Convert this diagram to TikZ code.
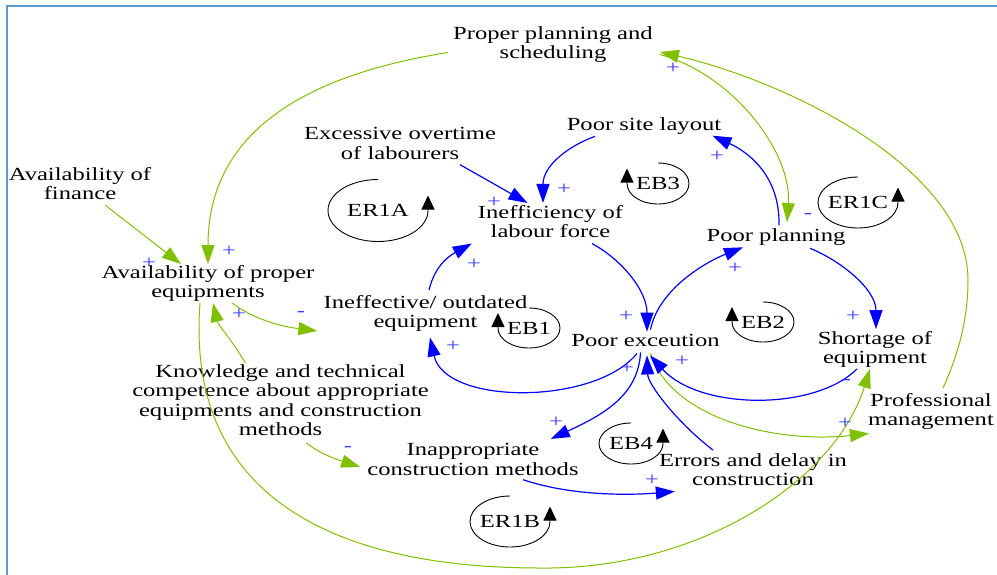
\documentclass[tikz,border=0pt]{standalone}
\usepackage{fontspec}
\setmainfont{Liberation Serif}[FakeStretch=1.33]
\usepackage{tikz}
\usetikzlibrary{arrows.meta}

\definecolor{lgreen}{RGB}{128,192,0}
\definecolor{frameblue}{RGB}{91,155,213}
\definecolor{signblue}{RGB}{60,60,255}

\begin{document}
\begin{tikzpicture}[x=1pt,y=-1pt,>={Triangle[length=19pt,width=13pt]},
	every node/.style={font=\fontsize{18.5}{19.5}\selectfont,inner sep=1pt},
	var/.style={align=center},
	sgn/.style={text=signblue,inner sep=0pt},
	lbl/.style={inner sep=0pt},
	bl/.style={->,draw=blue,line width=1.2pt},
	gr/.style={->,draw=lgreen,line width=1pt},
	lp/.style={draw=black,line width=0.9pt,-{Triangle[length=14pt,width=13pt]}}]
		\useasboundingbox (0,0) rectangle (997,574);
		\draw[frameblue,line width=2pt] (7,576) -- (7,6) -- (999,6);
		
		% variables
		\node[var] (pps) at (553,44.5) {Proper planning and\\scheduling};
		\node[var] (eol) at (400,143.5) {Excessive overtime\\of labourers};
		\node[var] (psl) at (644,125.7) {Poor site layout};
		\node[var] (aof) at (80,183.5) {Availability of\\finance};
		\node[var] (ilf) at (550.5,221.5) {Inefficiency of\\labour force};
		\node[var] (ppl) at (776,236.7) {Poor planning};
		\node[var] (ape) at (208,283.5) {Availability of proper\\equipments};
		\node[var] (ioe) at (425.5,313.5) {Ineffective/ outdated\\equipment};
		\node[var] (pex) at (645.5,340) {Poor exceution};
		\node[var] (soe) at (875,349.5) {Shortage of\\equipment};
		\node[var] (ktc) at (280.5,400) {Knowledge and technical\\competence about appropriate\\equipments and construction\\methods};
		\node[var] (pmg) at (931,411.5) {Professional\\management};
		\node[var] (icm) at (473,459.5) {Inappropriate\\construction methods};
		\node[var] (edc) at (753,469.5) {Errors and delay in\\construction};
		
		% loops
		\node[lbl] (er1a) at (378,210.5) {ER1A};
		\node[lbl] (eb3) at (658,183.5) {EB3};
		\node[lbl] (er1c) at (858,202.5) {ER1C};
		\node[lbl] (eb1) at (529,328) {EB1};
		\node[lbl] (eb2) at (763,322) {EB2};
		\node[lbl] (eb4) at (631,443.5) {EB4};
		\node[lbl] (er1b) at (510,521.5) {ER1B};
		\draw[lp] ([yshift=31pt]er1a.center) arc[start angle=-90,end angle=-360,x radius=50,y radius=31] -- ++(0,-15);
		\draw[lp] ([yshift=20.5pt]eb3.center) arc[start angle=-90,end angle=180,x radius=31,y radius=20.5] -- ++(0,-15);
		\draw[lp] ([yshift=25.5pt]er1c.center) arc[start angle=-90,end angle=-360,x radius=40,y radius=25.5] -- ++(0,-15);
		\draw[lp] ([yshift=20pt]eb1.center) arc[start angle=-90,end angle=180,x radius=31,y radius=20] -- ++(0,-15);
		\draw[lp] ([yshift=20pt]eb2.center) arc[start angle=-90,end angle=180,x radius=31,y radius=20] -- ++(0,-15);
		\draw[lp] ([yshift=20.5pt]eb4.center) arc[start angle=-90,end angle=-360,x radius=32,y radius=20.5] -- ++(0,-15);
		\draw[lp] ([yshift=25.5pt]er1b.center) arc[start angle=-90,end angle=-360,x radius=40,y radius=25.5] -- ++(0,-15);
		
		% green links
		\coordinate (gbend) at (540,568);
		\coordinate (mbend) at (968,280);
		\draw[gr] ([shift={(-4,8)}]pps.west) .. controls +(-190,30) and +(0,-100) .. (ape.north);
		\draw[gr] ([shift={(25,4)}]aof.south) -- ([xshift=-27pt]ape.north);
		\draw[gr] ([xshift=-35pt]ktc.north) .. controls +(-15,-25) and +(5,22) .. ([xshift=5pt]ape.south);
		\draw[gr] ([xshift=24pt]ape.south) .. controls +(20,15) and +(-40,-5) .. ([shift={(-5,-2)}]ioe.south west);
		\draw[gr] ([shift={(26,6)}]ktc.south) .. controls +(12,10) and +(-25,-8) .. ([shift={(-6,7.5)}]icm.west);
		\draw[gr] ([xshift=-8pt]ape.south) .. controls +(-15,197.5) and +(-200,0) .. (gbend)
			.. controls +(160,2) and +(-35,111.5) .. ([xshift=-5pt]soe.south);
		\draw[gr] ([shift={(5,6)}]pex.south) .. controls +(22,67) and +(-90,10) .. ([shift={(2,2.5)}]pmg.south west);
		\draw[gr] ([shift={(12,-4)}]pmg.north) .. controls +(15,-33) and +(0,40) .. (mbend)
			.. controls +(0,-110) and +(130,30) .. ([shift={(6,7.5)}]pps.east);
		\draw[gr] ([shift={(6,10)}]pps.east) .. controls +(73,20) and +(5,-70) .. ([shift={(11,-5)}]ppl.north);
		
		% blue links
		\draw[bl] ([shift={(60,4)}]eol.south) -- ([shift={(-23,-1)}]ilf.north);
		\draw[bl] ([shift={(-49,1)}]psl.south) .. controls +(-25,9) and +(0,-38) .. ([shift={(-7.5,-1)}]ilf.north);
		\draw[bl] ([shift={(3,-2)}]ppl.north) .. controls +(1,-50) and +(35,16) .. ([shift={(-10,10)}]psl.east);
		\draw[bl] ([shift={(3.5,-4)}]ioe.north) .. controls +(6,-25) and +(-22,12) .. ([shift={(-5,4.5)}]ilf.south west);
		\draw[bl] ([shift={(41.5,4.5)}]ilf.south) .. controls +(28,15) and +(0,-42) .. ([shift={(1.5,-1)}]pex.north);
		\draw[bl] ([shift={(5,-3)}]pex.north) .. controls +(8,-40) and +(-38,15) .. ([shift={(-33,1)}]ppl.south);
		\draw[bl] ([shift={(34,2)}]ppl.south) .. controls +(30,12) and +(0,-40) .. ([shift={(1,-1)}]soe.north);
		\draw[bl] ([shift={(-8.5,6)}]pex.south) .. controls +(-42,52) and +(15,68) .. ([shift={(4.5,4.5)}]ioe.south);
		\draw[bl] ([shift={(-5,5)}]pex.south) .. controls +(-2,43) and +(52,-24) .. ([shift={(-29,-3.4)}]icm.north east);
		\draw[bl] ([shift={(-40,-2)}]edc.north) .. controls +(-33,-25) and +(1,30) .. ([shift={(1.5,8)}]pex.south);
		\draw[bl] ([xshift=-18pt]soe.south) .. controls +(-42,42) and +(50,55) .. ([shift={(4.5,8)}]pex.south);
		\draw[bl] ([shift={(50,3)}]icm.south) .. controls +(47,16) and +(-47,4) .. ([shift={(17,4.5)}]edc.south west);
		
		% polarities
		\node[sgn] (p1) at (673,68) {+};
		\node[sgn] (p2) at (494,202) {+};
		\node[sgn] (p3) at (564,189) {+};
		\node[sgn] (p4) at (717,156) {+};
		\node[sgn] (p5) at (229,251) {+};
		\node[sgn] (p6) at (149,263) {+};
		\node[sgn] (p7) at (474,264) {+};
		\node[sgn] (p8) at (735,268) {+};
		\node[sgn] (p9) at (239,314) {+};
		\node[sgn] (p10) at (626,316) {+};
		\node[sgn] (p11) at (853,316) {+};
		\node[sgn] (p12) at (453,346) {+};
		\node[sgn] (p13) at (682,361) {+};
		\node[sgn] (p14) at (627,368) {+};
		\node[sgn] (p15) at (556,422) {+};
		\node[sgn] (p16) at (845,423) {+};
		\node[sgn] (p17) at (652,480) {+};
		\node[sgn] (m1) at (808,216) {-};
		\node[sgn] (m2) at (301,314) {-};
		\node[sgn] (m3) at (348,449) {-};
		\node[sgn] (m4) at (847,382) {-};
		
		\end{tikzpicture}
\end{document}
